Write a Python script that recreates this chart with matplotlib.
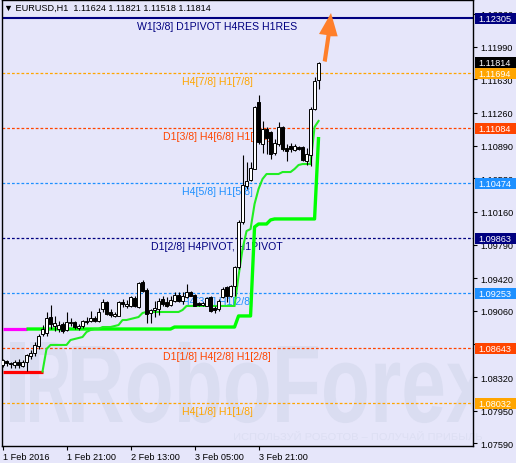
import numpy as np
import matplotlib
matplotlib.use('Agg')
import matplotlib.pyplot as plt
from matplotlib import transforms
from matplotlib.patches import Rectangle, Polygon, PathPatch
from matplotlib.textpath import TextPath
from matplotlib.font_manager import FontProperties

plt.rcParams['font.family'] = ['Liberation Sans', 'DejaVu Sans']

# EURUSD H1, 1 Feb 2016 00:00 .. 4 Feb 07:00 (80 bars)
opens = [
    1.08457, 1.08498, 1.08479, 1.08457, 1.08494, 1.08449, 1.08487, 1.08561, 1.08591, 1.08672,
    1.08803, 1.08812, 1.08988, 1.08887, 1.08857, 1.08913, 1.08849, 1.08921, 1.08938, 1.08865,
    1.08894, 1.08950, 1.08950, 1.08976, 1.08950, 1.09078, 1.09160, 1.09041, 1.09003, 1.09003,
    1.09153, 1.09115, 1.09108, 1.09198, 1.09097, 1.09377, 1.09294, 1.09034, 1.09071, 1.09078,
    1.09190, 1.09153, 1.09123, 1.09171, 1.09238, 1.09171, 1.09209, 1.09272, 1.09235, 1.09145,
    1.09123, 1.09115, 1.09209, 1.09086, 1.09078, 1.09209, 1.09321, 1.09220, 1.09338, 1.09541,
    1.10040, 1.10449, 1.10516, 1.10639, 1.11376, 1.10910, 1.11078, 1.11041, 1.10810, 1.10910,
    1.11097, 1.10862, 1.10891, 1.10847, 1.10874, 1.10874, 1.10724, 1.10788, 1.11299, 1.11624]
highs = [
    1.08524, 1.08516, 1.08494, 1.08509, 1.08524, 1.08516, 1.08580, 1.08628, 1.08710, 1.08803,
    1.08896, 1.09043, 1.09125, 1.09005, 1.08950, 1.08938, 1.09050, 1.08976, 1.08950, 1.08913,
    1.08961, 1.08988, 1.09061, 1.08999, 1.09088, 1.09190, 1.09171, 1.09078, 1.09041, 1.09171,
    1.09190, 1.09182, 1.09220, 1.09220, 1.09377, 1.09406, 1.09310, 1.09078, 1.09171, 1.09198,
    1.09220, 1.09209, 1.09220, 1.09265, 1.09272, 1.09265, 1.09358, 1.09283, 1.09246, 1.09160,
    1.09160, 1.09209, 1.09227, 1.09115, 1.09190, 1.09321, 1.09339, 1.09346, 1.09561, 1.10062,
    1.10784, 1.10710, 1.10710, 1.11338, 1.11450, 1.11171, 1.11097, 1.11059, 1.10966, 1.11153,
    1.11115, 1.10910, 1.10918, 1.10910, 1.10891, 1.10885, 1.10862, 1.11320, 1.11653, 1.11821]
lows = [
    1.08434, 1.08442, 1.08420, 1.08427, 1.08420, 1.08431, 1.08393, 1.08524, 1.08561, 1.08636,
    1.08777, 1.08782, 1.08857, 1.08838, 1.08820, 1.08812, 1.08838, 1.08894, 1.08857, 1.08849,
    1.08865, 1.08913, 1.08932, 1.08932, 1.08932, 1.09041, 1.09011, 1.08986, 1.08986, 1.08997,
    1.09097, 1.09086, 1.09097, 1.09097, 1.09086, 1.09272, 1.08922, 1.08922, 1.08986, 1.09011,
    1.09115, 1.09097, 1.09115, 1.09153, 1.09153, 1.09134, 1.09198, 1.09220, 1.09108, 1.09108,
    1.09108, 1.09108, 1.09048, 1.09034, 1.09059, 1.09198, 1.09157, 1.09209, 1.09226, 1.09522,
    1.10021, 1.10412, 1.10504, 1.10631, 1.10910, 1.10810, 1.10799, 1.10743, 1.10788, 1.10891,
    1.10836, 1.10724, 1.10824, 1.10836, 1.10843, 1.10724, 1.10676, 1.10668, 1.11292, 1.11518]
closes = [
    1.08513, 1.08479, 1.08465, 1.08494, 1.08457, 1.08487, 1.08569, 1.08591, 1.08680, 1.08784,
    1.08859, 1.08976, 1.08913, 1.08924, 1.08902, 1.08838, 1.08932, 1.08938, 1.08876, 1.08894,
    1.08950, 1.08938, 1.08976, 1.08946, 1.09043, 1.09153, 1.09022, 1.09011, 1.09022, 1.09153,
    1.09131, 1.09134, 1.09209, 1.09108, 1.09365, 1.09283, 1.09022, 1.09067, 1.09086, 1.09171,
    1.09134, 1.09115, 1.09179, 1.09235, 1.09171, 1.09220, 1.09265, 1.09227, 1.09115, 1.09123,
    1.09145, 1.09198, 1.09059, 1.09067, 1.09171, 1.09302, 1.09220, 1.09332, 1.09543, 1.10044,
    1.10456, 1.10504, 1.10643, 1.11320, 1.10929, 1.11078, 1.10974, 1.10799, 1.10922, 1.11097,
    1.10855, 1.10836, 1.10855, 1.10891, 1.10855, 1.10732, 1.10799, 1.11301, 1.11615, 1.11814]

# trailing stop lines (bar index, price)
thin_start = 10
thin_stop = [
    1.08385, 1.08635, 1.08680, 1.08680, 1.08680, 1.08680, 1.08680, 1.08735, 1.08746, 1.08757,
    1.08768, 1.08824, 1.08846, 1.08857, 1.08857, 1.08879, 1.08879, 1.08879, 1.08890, 1.08901,
    1.08957, 1.08957, 1.08968, 1.08979, 1.08990, 1.09035, 1.09046, 1.09046, 1.09046, 1.09046,
    1.09046, 1.09046, 1.09046, 1.09046, 1.09046, 1.09068, 1.09113, 1.09113, 1.09113, 1.09113,
    1.09113, 1.09113, 1.09113, 1.09113, 1.09113, 1.09113, 1.09113, 1.09113, 1.09113, 1.09446,
    1.09746, 1.09945, 1.09967, 1.10245, 1.10412, 1.10523, 1.10578, 1.10578, 1.10578, 1.10578,
    1.10600, 1.10600, 1.10600, 1.10634, 1.10678, 1.10689, 1.10689, 1.10689, 1.11100, 1.11167]
thick_bars = [6, 42, 43, 58, 59, 62, 63, 64, 66, 67, 68, 78, 79]
thick_vals = [1.08857, 1.08857, 1.08879, 1.08879, 1.09002, 1.09002, 1.09990,
              1.10023, 1.10023, 1.10068, 1.10079, 1.10079, 1.10989]
magenta_bars, magenta_vals = [0, 6], [1.08857, 1.08857]
red_bars, red_vals = [0, 10], [1.08385, 1.08385]

levels = [1.12305, 1.11694, 1.11084, 1.10474, 1.09863, 1.09253, 1.08643, 1.08032]
level_colors = ['#000080', '#FFA500', '#FF4500', '#1E90FF',
                '#000080', '#1E90FF', '#FF4500', '#FFA500']
level_names = ['W1[3/8] D1PIVOT H4RES H1RES', 'H4[7/8] H1[7/8]', 'D1[3/8] H4[6/8] H1[6/8]',
               'H4[5/8] H1[5/8]', 'D1[2/8] H4PIVOT, H1PIVOT', 'H4[3/8] H1[2/8]',
               'D1[1/8] H4[2/8] H1[2/8]', 'H4[1/8] H1[1/8]']
bid = 1.11814

yticks = [1.12360, 1.11990, 1.11630, 1.11260, 1.10890, 1.10530, 1.10160,
          1.09790, 1.09420, 1.09060, 1.08690, 1.08320, 1.07950, 1.07590]
xtick_bars = [0, 16, 32, 48, 64]
xtick_labels = ['1 Feb 2016', '1 Feb 21:00', '2 Feb 13:00', '3 Feb 05:00', '3 Feb 21:00']

W, H = 516, 464
BG = '#E6E6FA'
WM = '#DADDF1'
fig = plt.figure(figsize=(W / 100, H / 100), dpi=100, facecolor=BG)
px = transforms.Affine2D().scale(1 / W, -1 / H).translate(0, 1) + fig.transFigure

ax = fig.add_axes([2 / W, 1 - 447 / H, 471 / W, 446 / H])
ax.set_facecolor(BG)
ymin, ymax = 1.07558, 1.12510
ax.set_xlim(-0.125, 117.6)
ax.set_ylim(ymin, ymax)
for s in ax.spines.values():
    s.set_color('black')
    s.set_linewidth(1)

# watermark
def text_patch(s, box, color, weight='normal'):
    tp = TextPath((0, 0), s, size=100, prop=FontProperties(family='Liberation Sans', weight=weight))
    ext = tp.get_extents()
    x0, y0, x1, y1 = box
    tr = (transforms.Affine2D().translate(-ext.x0, 0)
          .scale((x1 - x0) / ext.width, -(y1 - y0) / ext.y1).translate(x0, y1) + px)
    return PathPatch(tp, transform=tr, color=color, lw=0, zorder=0.5)

ax.add_patch(text_patch('RoboForex', (72, 343, 490, 423), WM, weight='bold'))
ax.add_patch(text_patch('R', (30, 343, 70, 423), WM, weight='bold'))
ax.add_patch(Rectangle((10, 343), 15, 80, transform=px, color=WM, lw=0, zorder=0.5))
wm2 = text_patch('ИСПОЛЬЗУЙ РОБОТОВ – ПОЛУЧАЙ ПРИБЫЛЬ', (234, 432, 482, 441), '#DDDFF3')
wm2.set_clip_on(False)
ax.add_patch(wm2)

# levels
for i, (lv, col, name) in enumerate(zip(levels, level_colors, level_names)):
    if i == 0:
        ax.axhline(lv, color=col, lw=1.5, zorder=2)
    else:
        ax.axhline(lv, color=col, lw=0.9, ls=(0, (2.2, 1.6)), zorder=2)
    ax.annotate(name, xy=(53.6, lv), xytext=(0, -5.2), textcoords='offset points',
                ha='center', va='center', color=col, fontsize=7.6, zorder=3)

# stop lines
ax.plot(magenta_bars, magenta_vals, color='#FF00FF', lw=2.3, zorder=4, solid_capstyle='butt')
ax.plot(red_bars, red_vals, color='#FF0000', lw=2.3, zorder=4, solid_capstyle='butt')
ax.plot(thick_bars, thick_vals, color='#00FF00', lw=2.4, zorder=4, solid_capstyle='butt')
ax.plot(np.arange(thin_start, thin_start + len(thin_stop)), thin_stop,
        color='#22EE22', lw=1.5, zorder=4)

# candles
x = np.arange(len(opens))
o, h, l, c = (np.array(v) for v in (opens, highs, lows, closes))
ax.vlines(x, l, h, color='black', lw=0.8, zorder=6)
ax.bar(x, np.maximum(np.abs(c - o), 0.00003), bottom=np.minimum(o, c), width=0.68,
       color=np.where(c >= o, 'white', 'black'), edgecolor='black', linewidth=0.7, zorder=7)

# axes ticks
ax.yaxis.tick_right()
ax.set_yticks(yticks)
ax.set_yticklabels(['%.5f' % t for t in yticks])
ax.set_xticks(xtick_bars)
ax.set_xticklabels(xtick_labels, ha='left')
ax.tick_params(axis='both', direction='out', length=3, width=0.8, labelsize=6.6, colors='black')
ax.tick_params(axis='y', pad=2)
ax.tick_params(axis='x', pad=1.5)

# price labels on the right scale
blend = transforms.blended_transform_factory(px, ax.transData)
bh = 11 * (ymax - ymin) / 446
tags = [(bid, 'black')] + list(zip(levels, level_colors))
for lv, col in tags:
    ax.add_patch(Rectangle((475, lv - bh / 2), 41, bh, transform=blend, color=col,
                           lw=0, clip_on=False, zorder=8))
    ax.text(478, lv, '%.5f' % lv, transform=blend, color='white', fontsize=6.6,
            va='center', ha='left', zorder=9, clip_on=False)

# arrow
ax.add_patch(Polygon([(322.7, 62), (326.7, 63), (330.5, 37.3), (337.7, 37.3), (331, 14),
                      (319, 35), (326.5, 36)], closed=True, transform=px,
                     color='#FF7F2A', lw=0, clip_on=False, zorder=10))

fig.text(4, 8, '▼ EURUSD,H1  1.11624 1.11821 1.11518 1.11814', transform=px,
         fontsize=6.6, va='center', ha='left', color='black')

fig.savefig('out.png', dpi=100, facecolor=BG)
